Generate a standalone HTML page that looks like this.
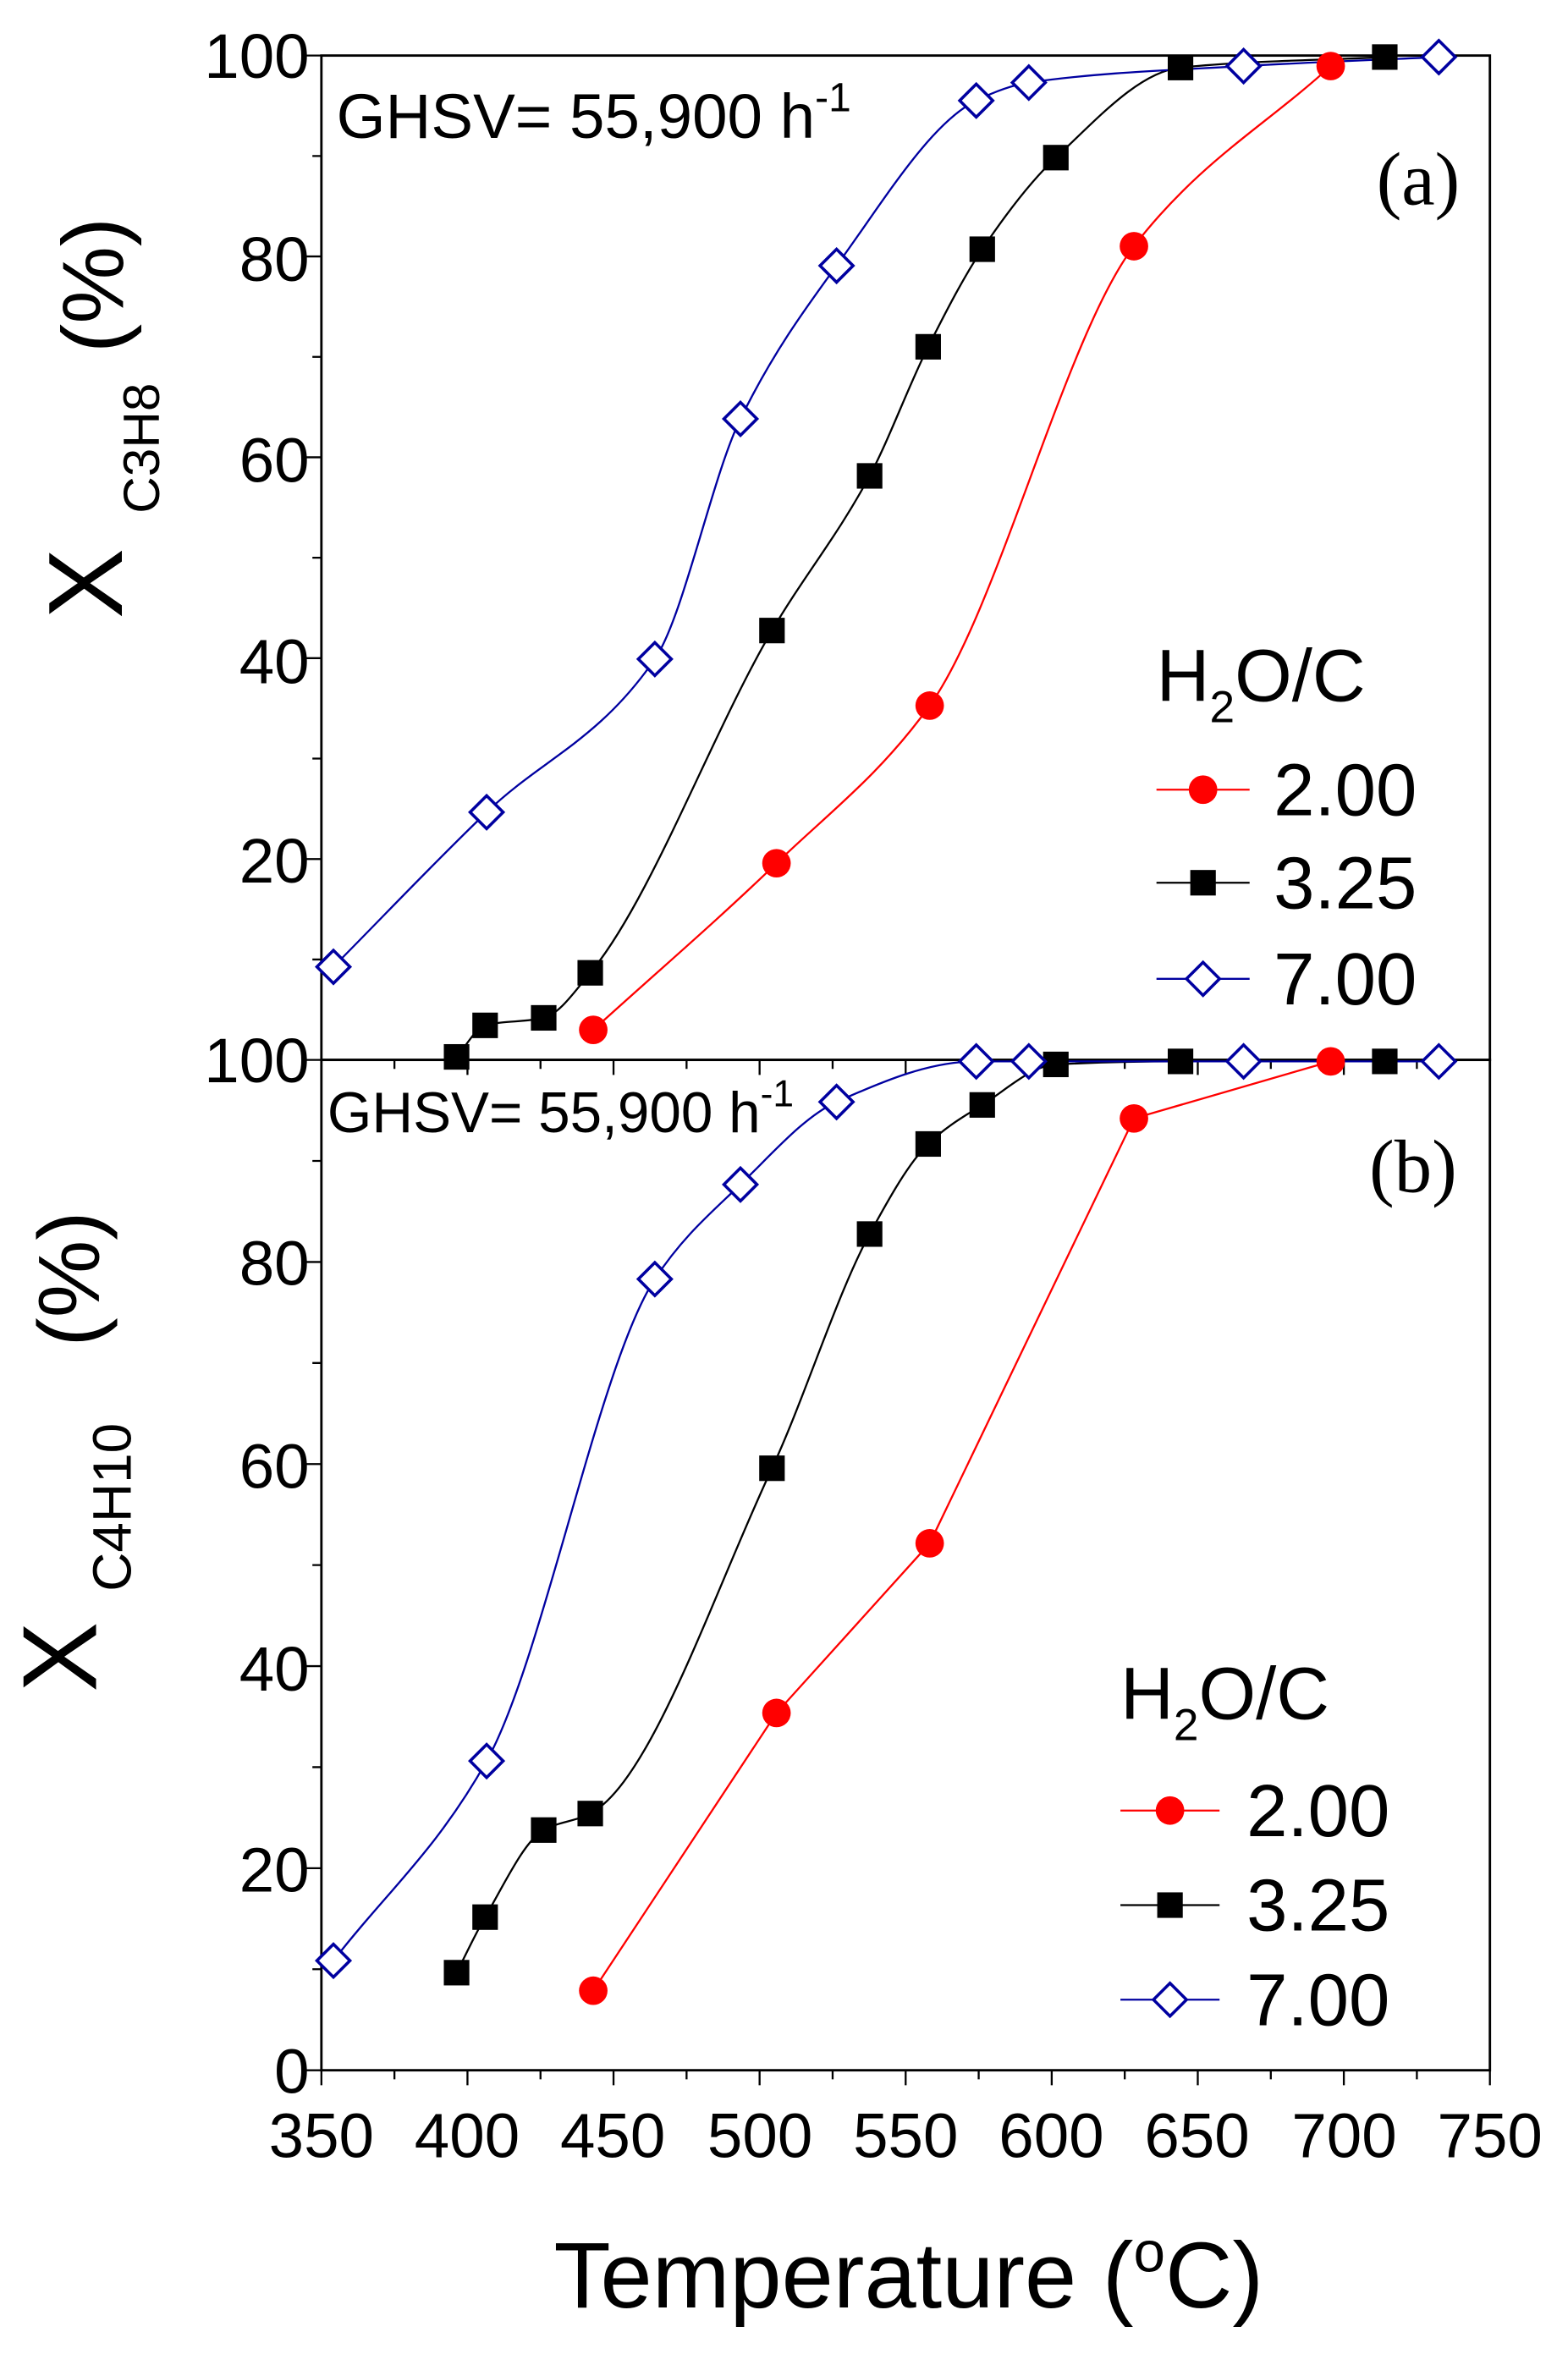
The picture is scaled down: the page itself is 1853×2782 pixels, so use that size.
<!DOCTYPE html>
<html><head><meta charset="utf-8"><style>
html,body{margin:0;padding:0;background:#fff}
svg{display:block}
text{font-family:"Liberation Sans",sans-serif}
.sf{font-family:"Liberation Serif",serif}
</style></head><body>
<svg id="s" width="1853" height="2782" viewBox="0 0 1044 1568" preserveAspectRatio="none" xmlns="http://www.w3.org/2000/svg">
<rect width="1044" height="1568" fill="#fff"/>
<g id="axes" stroke="#000" stroke-width="1.6" fill="none">
<rect x="214" y="37" width="778" height="669"/>
<rect x="214" y="706" width="778" height="673"/>
</g>
<g id="ticks" stroke="#000" stroke-width="1.3"></g>
<g id="curves" fill="none" stroke-width="1.3"></g>
<g id="marks"></g>
<g font-size="42" fill="#000" text-anchor="end">
<text x="206" y="52">100</text><text x="206" y="187">80</text><text x="206" y="321">60</text><text x="206" y="455">40</text><text x="206" y="588">20</text>
<text x="206" y="721">100</text><text x="206" y="856">80</text><text x="206" y="991">60</text><text x="206" y="1126">40</text><text x="206" y="1260">20</text><text x="206" y="1394">0</text>
</g>
<g font-size="42" fill="#000" text-anchor="middle">
<text x="214" y="1437">350</text><text x="311" y="1437">400</text><text x="408" y="1437">450</text><text x="506" y="1437">500</text><text x="603" y="1437">550</text><text x="700" y="1437">600</text><text x="797" y="1437">650</text><text x="895" y="1437">700</text><text x="992" y="1437">750</text>
</g>
<text x="605" y="1537" font-size="62" text-anchor="middle" fill="#000">Temperature (<tspan dy="-24" font-size="38">o</tspan><tspan dy="24">C)</tspan></text>
<g fill="#000">
<text transform="translate(81,412) rotate(-90)" font-size="70">X</text>
<text transform="translate(106,342) rotate(-90)" font-size="34">C3H8</text>
<text transform="translate(82,235) rotate(-90)" font-size="58">(%)</text>
<text transform="translate(64,1127) rotate(-90)" font-size="70">X</text>
<text transform="translate(87,1060) rotate(-90)" font-size="36">C4H10</text>
<text transform="translate(66,897) rotate(-90)" font-size="58">(%)</text>
</g>
<text x="224" y="92" font-size="42" fill="#000">GHSV= 55,900 h<tspan dy="-18" font-size="27">-1</tspan></text>
<text x="218" y="754" font-size="38" fill="#000">GHSV= 55,900 h<tspan dy="-17" font-size="25">-1</tspan></text>
<text x="972" y="136" font-size="50" text-anchor="end" class="sf" fill="#000">(a)</text>
<text x="970" y="794" font-size="50" text-anchor="end" class="sf" fill="#000">(b)</text>
<g id="leg" font-size="49" fill="#000"></g>
</svg>
<script>
var NS="http://www.w3.org/2000/svg";
function X(t){return 214+(t-350)*778/400}
function el(p,n,a){var e=document.createElementNS(NS,n);for(var k in a)e.setAttribute(k,a[k]);document.getElementById(p).appendChild(e);return e}
var tk="";
for(var t=350;t<=750;t+=25){var x=X(t),L=(t%50==0)?10:6;tk+="M"+x+" 1379v"+L+"M"+x+" 706v"+L;}
for(var v=0;v<=100;v+=10){var L=(v%20==0)?10:6;var y1=706-v*6.69,y2=1379-v*6.73;if(v>0)tk+="M214 "+y1+"h-"+L;tk+="M214 "+y2+"h-"+L;}
el("ticks","path",{d:tk});
function mono(p){var n=p.length,d=[],m=[];for(var i=0;i<n-1;i++)d.push((p[i+1][1]-p[i][1])/(p[i+1][0]-p[i][0]));
m[0]=d[0];m[n-1]=d[n-2];for(var i=1;i<n-1;i++){if(d[i-1]*d[i]<=0)m[i]=0;else{var h0=p[i][0]-p[i-1][0],h1=p[i+1][0]-p[i][0];m[i]=3*(h0+h1)/((2*h1+h0)/d[i-1]+(h1+2*h0)/d[i]);}}
var s="M"+p[0][0]+" "+p[0][1];for(var i=0;i<n-1;i++){var h=(p[i+1][0]-p[i][0])/3;s+="C"+(p[i][0]+h)+" "+(p[i][1]+m[i]*h)+" "+(p[i+1][0]-h)+" "+(p[i+1][1]-m[i+1]*h)+" "+p[i+1][0]+" "+p[i+1][1];}return s}
var R="#ff0000",K="#000",B="#0000a0";
var S=[
[R,"c",[[395,686],[517,575],[619,470],[755,164],[886,44]],1],
[K,"s",[[304,704],[323,683],[362,678],[393,648],[514,420],[579,317],[618,231],[654,166],[703,105],[786,45],[922,38]],1],
[B,"d",[[222,644],[324,541],[436,439],[493,279],[557,177],[650,67],[685,55],[828,44],[958,38]],1],
[R,"c",[[395,1326],[517,1141],[619,1028],[755,745],[886,707]],0],
[K,"s",[[304,1314],[323,1277],[362,1219],[393,1208],[514,978],[579,822],[618,762],[654,736],[703,709],[786,707],[922,707]],1],
[B,"d",[[222,1306],[324,1173],[436,852],[493,789],[557,734],[650,707],[685,707],[828,707],[958,707]],1]];
function mk(c,t,x,y){if(t=="c")el("marks","circle",{cx:x,cy:y,r:9.5,fill:c});else if(t=="s")el("marks","rect",{x:x-8.5,y:y-8.5,width:17,height:17,fill:c});else el("marks","path",{d:"M"+x+" "+(y-11)+"l11 11l-11 11l-11 -11z",fill:"#fff",stroke:c,"stroke-width":2});}
S.forEach(function(s){var d;if(s[3])d=mono(s[2]);else d="M"+s[2].map(function(p){return p.join(" ")}).join("L");el("curves","path",{d:d,stroke:s[0]});s[2].forEach(function(p){mk(s[0],s[1],p[0],p[1])});});
function leg(x0,x1,tx,yh,ys){var t=el("leg","text",{x:x0,y:yh});t.innerHTML='H<tspan font-size="30" dy="14">2</tspan><tspan dy="-14">O/C</tspan>';
var lab=["2.00","3.25","7.00"],c=[R,K,B],m=["c","s","d"];for(var i=0;i<3;i++){var y=ys[i];el("curves","path",{d:"M"+x0+" "+y+"H"+x1,stroke:c[i]});mk(c[i],m[i],(x0+x1)/2,y);var tt=el("leg","text",{x:tx,y:y+17});tt.textContent=lab[i];}}
leg(770,832,848,467,[526,588,652]);
leg(746,812,830,1145,[1206,1269,1332]);
</script>
</body></html>
